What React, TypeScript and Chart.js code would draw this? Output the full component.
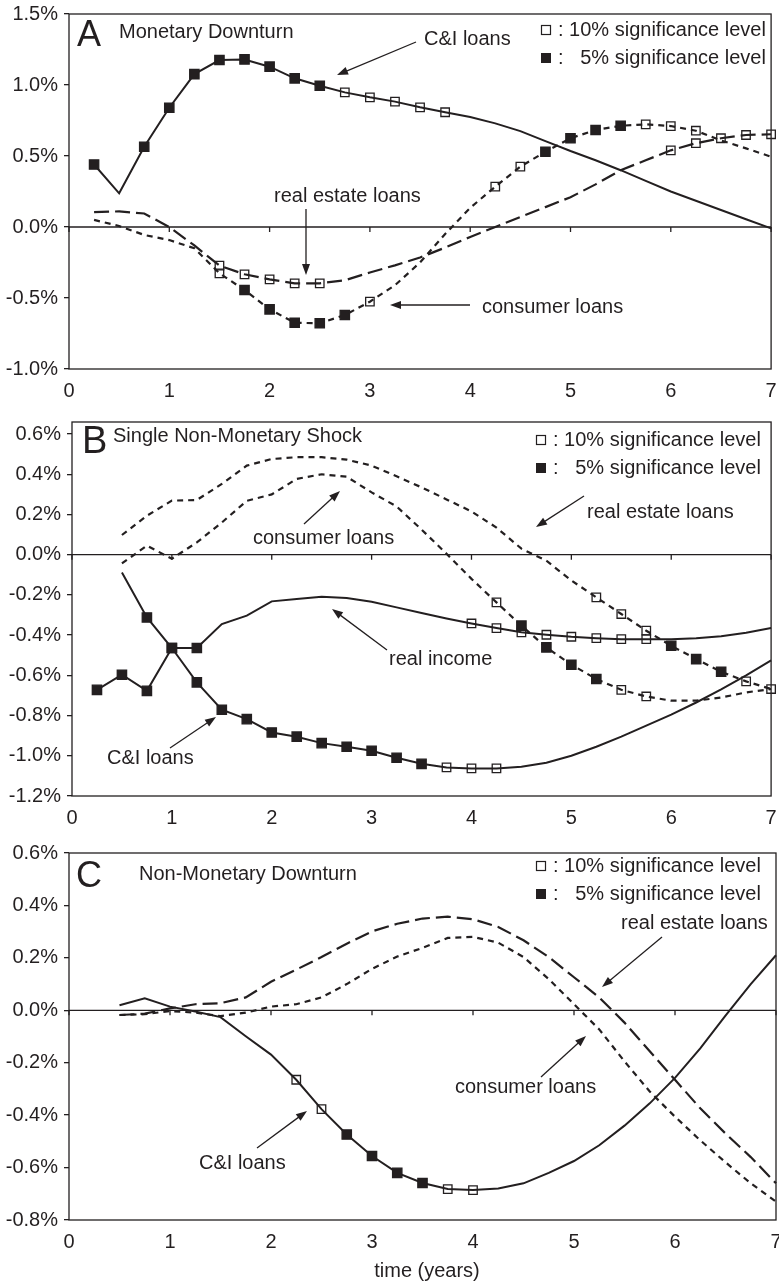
import React, { useEffect, useRef } from "react";
import { Chart, registerables } from "chart.js";

Chart.register(...registerables);

// ---------- data ----------
const quarters = [0.25, 0.5, 0.75, 1, 1.25, 1.5, 1.75, 2, 2.25, 2.5, 2.75, 3, 3.25, 3.5, 3.75, 4, 4.25, 4.5, 4.75, 5, 5.25, 5.5, 5.75, 6, 6.25, 6.5, 6.75, 7];
const xTickValues = [0, 1, 2, 3, 4, 5, 6, 7];
const aTickValues = [-1.0, -0.5, 0, 0.5, 1.0, 1.5];
const bTickValues = [-1.2, -1.0, -0.8, -0.6, -0.4, -0.2, 0, 0.2, 0.4, 0.6];
const cTickValues = [-0.8, -0.6, -0.4, -0.2, 0, 0.2, 0.4, 0.6];

// significance codes: 0 = none, 1 = 10% level (open square), 2 = 5% level (filled square)
// Panel A: Monetary Downturn
const aCILoans = [0.44, 0.237, 0.565, 0.84, 1.077, 1.176, 1.18, 1.129, 1.047, 0.995, 0.948, 0.913, 0.883, 0.843, 0.808, 0.775, 0.73, 0.675, 0.605, 0.535, 0.47, 0.4, 0.325, 0.25, 0.185, 0.12, 0.055, -0.01];
const aCISig = [2, 0, 2, 2, 2, 2, 2, 2, 2, 2, 1, 1, 1, 1, 1, 0, 0, 0, 0, 0, 0, 0, 0, 0, 0, 0, 0, 0];
const aRealEstate = [0.105, 0.11, 0.095, 0.0, -0.13, -0.272, -0.333, -0.369, -0.397, -0.397, -0.375, -0.32, -0.27, -0.215, -0.145, -0.07, 0.0, 0.07, 0.14, 0.21, 0.3, 0.4, 0.47, 0.54, 0.59, 0.625, 0.648, 0.653];
const aRealEstateSig = [0, 0, 0, 0, 0, 1, 1, 1, 1, 1, 0, 0, 0, 0, 0, 0, 0, 0, 0, 0, 0, 0, 0, 1, 1, 1, 1, 1];
const aConsumer = [0.05, 0.007, -0.056, -0.092, -0.15, -0.326, -0.444, -0.58, -0.674, -0.678, -0.62, -0.526, -0.41, -0.25, -0.05, 0.135, 0.284, 0.425, 0.53, 0.625, 0.683, 0.713, 0.723, 0.711, 0.678, 0.61, 0.554, 0.495];
const aConsumerSig = [0, 0, 0, 0, 0, 1, 2, 2, 2, 2, 2, 1, 0, 0, 0, 0, 1, 1, 2, 2, 2, 2, 1, 1, 1, 0, 0, 0];

// Panel B: Single Non-Monetary Shock
const bCILoans = [null, -0.088, -0.312, -0.464, -0.635, -0.771, -0.818, -0.884, -0.905, -0.937, -0.955, -0.975, -1.01, -1.04, -1.058, -1.063, -1.063, -1.055, -1.035, -1.0, -0.955, -0.905, -0.85, -0.795, -0.735, -0.67, -0.6, -0.525];
const bCISig = [0, 0, 2, 2, 2, 2, 2, 2, 2, 2, 2, 2, 2, 2, 1, 1, 1, 0, 0, 0, 0, 0, 0, 0, 0, 0, 0, 0];
const bRealIncome = [-0.672, -0.597, -0.677, -0.464, -0.464, -0.345, -0.303, -0.232, -0.22, -0.209, -0.215, -0.234, -0.262, -0.29, -0.317, -0.342, -0.365, -0.386, -0.398, -0.408, -0.415, -0.42, -0.42, -0.42, -0.415, -0.405, -0.388, -0.365];
const bRealIncomeSig = [2, 2, 2, 2, 2, 0, 0, 0, 0, 0, 0, 0, 0, 0, 0, 1, 1, 1, 1, 1, 1, 1, 1, 0, 0, 0, 0, 0];
const bConsumer = [null, -0.043, 0.045, -0.02, 0.061, 0.16, 0.268, 0.3, 0.377, 0.4, 0.388, 0.31, 0.24, 0.125, 0.005, -0.12, -0.237, -0.353, -0.461, -0.547, -0.618, -0.672, -0.705, -0.726, -0.726, -0.71, -0.685, -0.668];
const bConsumerSig = [0, 0, 0, 0, 0, 0, 0, 0, 0, 0, 0, 0, 0, 0, 0, 0, 1, 2, 2, 2, 2, 1, 1, 0, 0, 0, 0, 1];
const bRealEstate = [null, 0.098, 0.194, 0.269, 0.272, 0.352, 0.443, 0.476, 0.485, 0.485, 0.473, 0.443, 0.39, 0.335, 0.275, 0.215, 0.135, 0.03, -0.03, -0.128, -0.212, -0.295, -0.378, -0.453, -0.519, -0.582, -0.63, -0.668];
const bRealEstateSig = [0, 0, 0, 0, 0, 0, 0, 0, 0, 0, 0, 0, 0, 0, 0, 0, 0, 0, 0, 0, 1, 1, 1, 2, 2, 2, 1, 0];

// Panel C: Non-Monetary Downturn
const cCILoans = [null, 0.019, 0.046, 0.014, -0.005, -0.026, -0.099, -0.169, -0.265, -0.377, -0.474, -0.556, -0.62, -0.659, -0.682, -0.686, -0.68, -0.66, -0.62, -0.575, -0.515, -0.44, -0.355, -0.258, -0.145, -0.02, 0.1, 0.21];
const cCISig = [0, 0, 0, 0, 0, 0, 0, 0, 1, 1, 2, 2, 2, 2, 1, 1, 0, 0, 0, 0, 0, 0, 0, 0, 0, 0, 0, 0];
const cRealEstate = [null, -0.018, -0.013, 0.007, 0.023, 0.027, 0.049, 0.109, 0.155, 0.203, 0.254, 0.301, 0.33, 0.35, 0.357, 0.347, 0.318, 0.267, 0.203, 0.126, 0.049, -0.047, -0.156, -0.265, -0.374, -0.47, -0.56, -0.66];
const cConsumer = [null, -0.018, -0.015, -0.003, -0.009, -0.022, -0.009, 0.014, 0.023, 0.049, 0.1, 0.158, 0.205, 0.238, 0.276, 0.28, 0.258, 0.203, 0.119, 0.023, -0.073, -0.195, -0.31, -0.406, -0.496, -0.58, -0.66, -0.73];
const noSig = quarters.map(() => 0);

// ---------- styles ----------
const INK = "#231f20";
const FONT = '"Liberation Sans", Arial, Helvetica, sans-serif';
const SOLID: number[] = [];
const LONG_DASH = [15, 6];
const SHORT_DASH = [6, 5];

function series(values: (number | null)[], sig: number[], dash: number[]) {
  return {
    data: quarters.map((x, i) => ({ x, y: values[i] })),
    borderColor: INK,
    borderWidth: dash.length ? 2.2 : 2,
    borderDash: dash,
    tension: 0,
    fill: false,
    clip: false as any,
    spanGaps: false,
    pointStyle: "rect",
    pointRadius: (ctx: any) => (sig[ctx.dataIndex] === 2 ? 6.6 : sig[ctx.dataIndex] === 1 ? 6.0 : 0),
    pointHoverRadius: 0,
    pointBackgroundColor: (ctx: any) => (sig[ctx.dataIndex] === 2 ? INK : "rgba(0,0,0,0)"),
    pointBorderColor: INK,
    pointBorderWidth: 1.3,
  };
}

type Note =
  | { kind: "text"; x: number; y: number; text: string; size?: number; align?: CanvasTextAlign }
  | { kind: "arrow"; x1: number; y1: number; x2: number; y2: number }
  | { kind: "legend"; x: number; y1: number; y2: number; textX: number };

const legendNote = (x: number, y1: number, y2: number, textX: number): Note => ({ kind: "legend", x, y1, y2, textX });

type PanelSpec = {
  top: number;
  height: number;
  padTop: number;
  padRight: number;
  yWidth: number;
  xHeight: number;
  yMin: number;
  yMax: number;
  yTicks: number[];
  datasets: any[];
  notes: Note[];
};

const panels: PanelSpec[] = [
  {
    top: 0,
    height: 420,
    padTop: 14,
    padRight: 3,
    yWidth: 69,
    xHeight: 51,
    yMin: -1.0,
    yMax: 1.5,
    yTicks: aTickValues,
    datasets: [
      series(aCILoans, aCISig, SOLID),
      series(aRealEstate, aRealEstateSig, LONG_DASH),
      series(aConsumer, aConsumerSig, SHORT_DASH),
    ],
    notes: [
      { kind: "text", x: 77, y: 36, text: "A", size: 36 },
      { kind: "text", x: 119, y: 32, text: "Monetary Downturn" },
      legendNote(541, 30, 58, 558),
      { kind: "text", x: 424, y: 39, text: "C&I loans" },
      { kind: "arrow", x1: 416, y1: 42, x2: 337, y2: 75 },
      { kind: "text", x: 274, y: 196, text: "real estate loans" },
      { kind: "arrow", x1: 306, y1: 209, x2: 306, y2: 275 },
      { kind: "text", x: 482, y: 307, text: "consumer loans" },
      { kind: "arrow", x1: 470, y1: 305, x2: 390, y2: 305 },
    ],
  },
  {
    top: 400,
    height: 450,
    padTop: 22,
    padRight: 4,
    yWidth: 72,
    xHeight: 54,
    yMin: -1.2,
    yMax: 0.66,
    yTicks: bTickValues,
    datasets: [
      series(bCILoans, bCISig, SOLID),
      series(bRealIncome, bRealIncomeSig, SOLID),
      series(bConsumer, bConsumerSig, SHORT_DASH),
      series(bRealEstate, bRealEstateSig, SHORT_DASH),
    ],
    notes: [
      { kind: "text", x: 82, y: 443, text: "B", size: 38 },
      { kind: "text", x: 113, y: 436, text: "Single Non-Monetary Shock" },
      legendNote(536, 440, 468, 553),
      { kind: "text", x: 587, y: 512, text: "real estate loans" },
      { kind: "arrow", x1: 584, y1: 496, x2: 536, y2: 527 },
      { kind: "text", x: 253, y: 538, text: "consumer loans" },
      { kind: "arrow", x1: 304, y1: 524, x2: 340, y2: 491 },
      { kind: "text", x: 389, y: 659, text: "real income" },
      { kind: "arrow", x1: 387, y1: 650, x2: 332, y2: 609 },
      { kind: "text", x: 107, y: 758, text: "C&I loans" },
      { kind: "arrow", x1: 170, y1: 748, x2: 216, y2: 717 },
    ],
  },
  {
    top: 830,
    height: 453,
    padTop: 23,
    padRight: 3,
    yWidth: 69,
    xHeight: 63,
    yMin: -0.8,
    yMax: 0.6,
    yTicks: cTickValues,
    datasets: [
      series(cCILoans, cCISig, SOLID),
      series(cRealEstate, noSig, LONG_DASH),
      series(cConsumer, noSig, SHORT_DASH),
    ],
    notes: [
      { kind: "text", x: 76, y: 877, text: "C", size: 36 },
      { kind: "text", x: 139, y: 874, text: "Non-Monetary Downturn" },
      legendNote(536, 866, 894, 553),
      { kind: "text", x: 621, y: 923, text: "real estate loans" },
      { kind: "arrow", x1: 662, y1: 937, x2: 602, y2: 987 },
      { kind: "text", x: 455, y: 1087, text: "consumer loans" },
      { kind: "arrow", x1: 541, y1: 1077, x2: 586, y2: 1036 },
      { kind: "text", x: 199, y: 1163, text: "C&I loans" },
      { kind: "arrow", x1: 257, y1: 1148, x2: 307, y2: 1111 },
      { kind: "text", x: 427, y: 1271, text: "time (years)", align: "center" },
    ],
  },
];

function fmtPct(v: number) {
  const n = Math.abs(v) < 1e-9 ? 0 : v;
  return n.toFixed(1) + "%";
}

function drawArrow(ctx: CanvasRenderingContext2D, x1: number, y1: number, x2: number, y2: number) {
  const ang = Math.atan2(y2 - y1, x2 - x1);
  const len = 11;
  const half = 4;
  ctx.save();
  ctx.strokeStyle = INK;
  ctx.fillStyle = INK;
  ctx.lineWidth = 1.3;
  ctx.beginPath();
  ctx.moveTo(x1, y1);
  ctx.lineTo(x2 - Math.cos(ang) * (len - 2), y2 - Math.sin(ang) * (len - 2));
  ctx.stroke();
  ctx.beginPath();
  ctx.moveTo(x2, y2);
  ctx.lineTo(x2 - Math.cos(ang) * len - Math.sin(ang) * half, y2 - Math.sin(ang) * len + Math.cos(ang) * half);
  ctx.lineTo(x2 - Math.cos(ang) * len + Math.sin(ang) * half, y2 - Math.sin(ang) * len - Math.cos(ang) * half);
  ctx.closePath();
  ctx.fill();
  ctx.restore();
}

function makePlugin(spec: PanelSpec) {
  return {
    id: "panelDecor",
    beforeDatasetsDraw(chart: any) {
      const ctx: CanvasRenderingContext2D = chart.ctx;
      const a = chart.chartArea;
      const y0 = chart.scales.y.getPixelForValue(0);
      ctx.save();
      ctx.strokeStyle = INK;
      ctx.lineWidth = 1.3;
      ctx.strokeRect(a.left, a.top, a.right - a.left, a.bottom - a.top);
      ctx.beginPath();
      ctx.moveTo(a.left, y0);
      ctx.lineTo(a.right, y0);
      for (const v of xTickValues) {
        const px = chart.scales.x.getPixelForValue(v);
        ctx.moveTo(px, y0);
        ctx.lineTo(px, y0 + 5);
      }
      ctx.stroke();
      ctx.restore();
    },
    afterDraw(chart: any) {
      const ctx: CanvasRenderingContext2D = chart.ctx;
      const off = spec.top;
      ctx.save();
      ctx.fillStyle = INK;
      ctx.textBaseline = "middle";
      for (const n of spec.notes) {
        if (n.kind === "text") {
          ctx.font = `${n.size ?? 20}px ${FONT}`;
          ctx.textAlign = n.align ?? "left";
          ctx.fillText(n.text, n.x, n.y - off);
        } else if (n.kind === "arrow") {
          drawArrow(ctx, n.x1, n.y1 - off, n.x2, n.y2 - off);
        } else if (n.kind === "legend") {
          ctx.lineWidth = 1.2;
          ctx.strokeStyle = INK;
          ctx.strokeRect(n.x + 0.5, n.y1 - off - 4.5, 9, 9);
          ctx.fillRect(n.x, n.y2 - off - 5, 10, 10);
          ctx.font = `20px ${FONT}`;
          ctx.textAlign = "left";
          ctx.fillText(": 10% significance level", n.textX, n.y1 - off);
          ctx.fillText(":   5% significance level", n.textX, n.y2 - off);
        }
      }
      ctx.restore();
    },
  };
}

function Panel({ spec }: { spec: PanelSpec }) {
  const ref = useRef<HTMLCanvasElement>(null);
  useEffect(() => {
    if (!ref.current) return;
    const chart = new Chart(ref.current, {
      type: "line",
      data: { datasets: spec.datasets },
      options: {
        animation: false,
        responsive: false,
        devicePixelRatio: 1,
        events: [],
        layout: { padding: { top: spec.padTop, right: spec.padRight, left: 0, bottom: 0 } },
        plugins: { legend: { display: false }, tooltip: { enabled: false } },
        scales: {
          x: {
            type: "linear",
            min: 0,
            max: 7,
            afterBuildTicks: (s: any) => {
              s.ticks = xTickValues.map((v) => ({ value: v }));
            },
            afterFit: (s: any) => {
              s.height = spec.xHeight;
              s.paddingLeft = 0;
              s.paddingRight = 0;
            },
            grid: { display: false },
            border: { display: false },
            ticks: {
              autoSkip: false,
              maxRotation: 0,
              padding: 2,
              color: INK,
              font: { family: FONT, size: 20 },
              callback: (v: any) => String(v),
            },
          },
          y: {
            type: "linear",
            min: spec.yMin,
            max: spec.yMax,
            afterBuildTicks: (s: any) => {
              s.ticks = spec.yTicks.map((v) => ({ value: v }));
            },
            afterFit: (s: any) => {
              s.width = spec.yWidth;
              s.paddingTop = 0;
              s.paddingBottom = 0;
            },
            grid: { drawOnChartArea: false, drawTicks: true, tickLength: 5, color: INK, lineWidth: 1.3 },
            border: { display: false },
            ticks: {
              padding: 6,
              color: INK,
              font: { family: FONT, size: 20 },
              callback: (v: any) => fmtPct(Number(v)),
            },
          },
        },
      } as any,
      plugins: [makePlugin(spec)],
    });
    return () => chart.destroy();
  }, [spec]);
  return (
    <canvas
      ref={ref}
      width={779}
      height={spec.height}
      style={{ position: "absolute", left: 0, top: spec.top, width: 779, height: spec.height, display: "block" }}
    />
  );
}

export default function App() {
  return (
    <div style={{ position: "absolute", left: 0, top: 0, width: 779, height: 1283, background: "#fff" }}>
      {panels.map((p, i) => (
        <Panel key={i} spec={p} />
      ))}
    </div>
  );
}
